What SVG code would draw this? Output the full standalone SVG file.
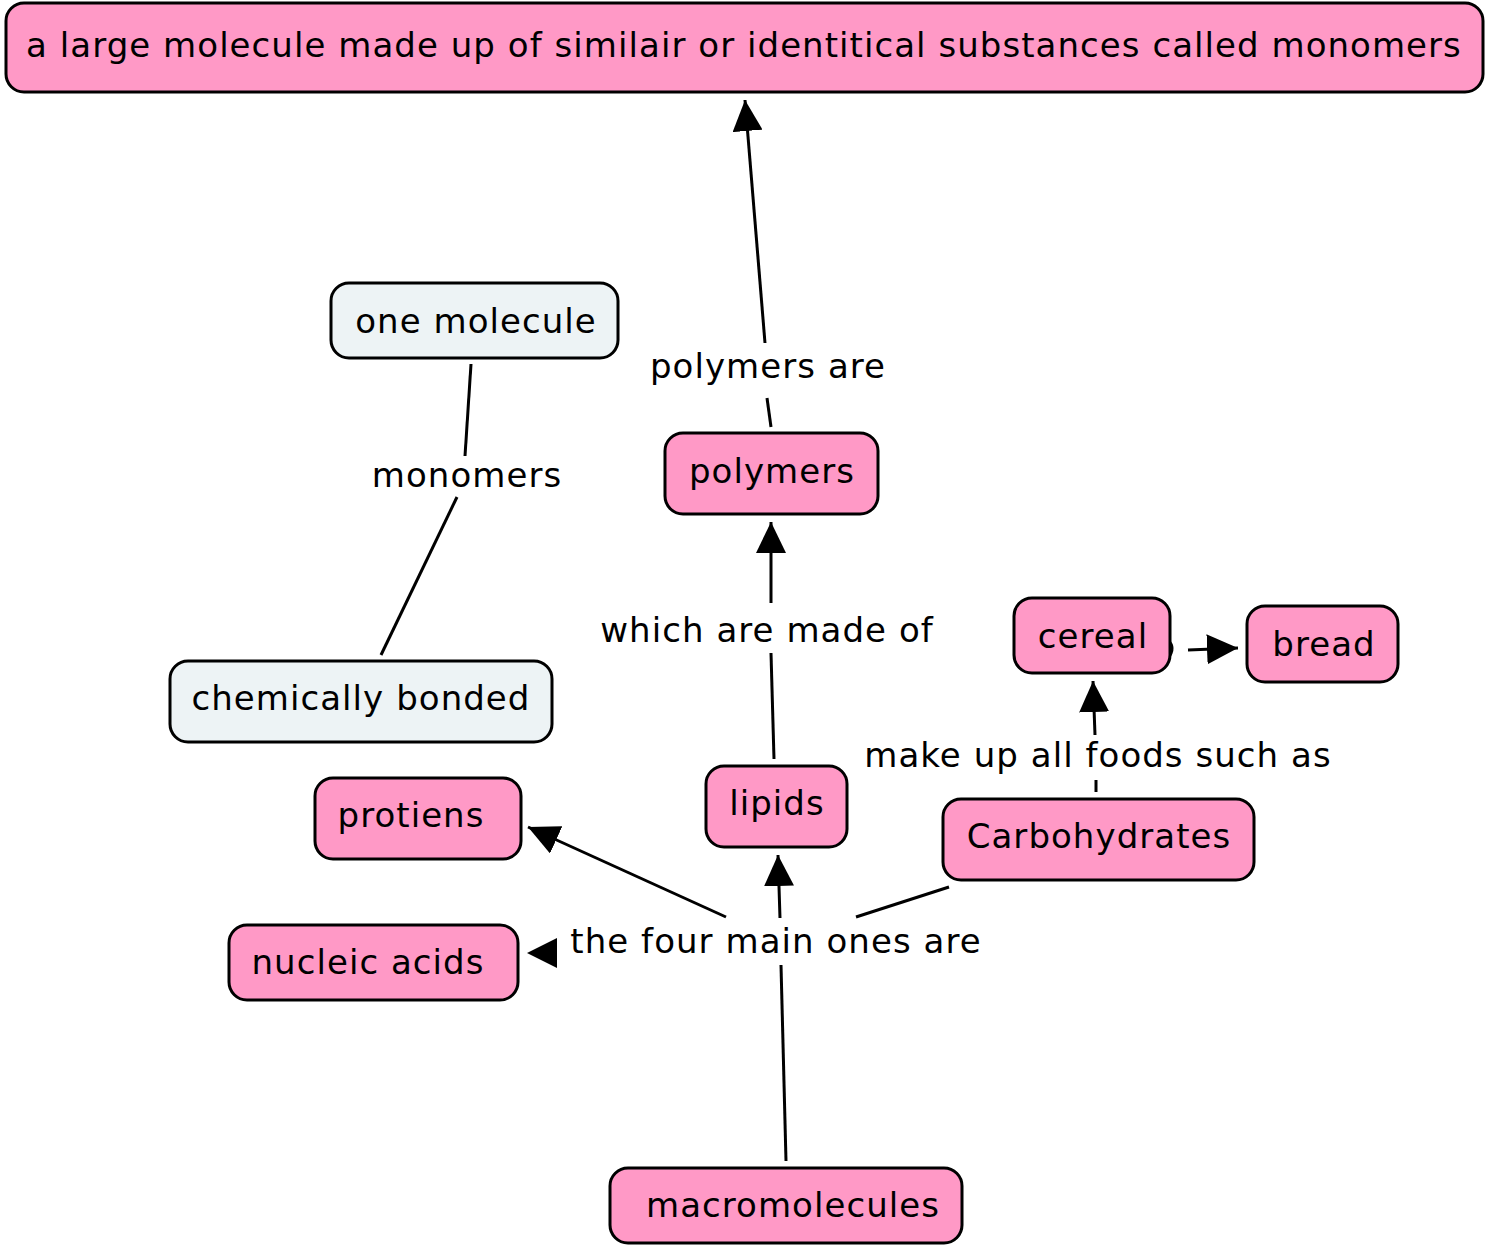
<svg xmlns="http://www.w3.org/2000/svg" width="1489" height="1250" viewBox="0 0 1489 1250">
<style>
.n rect{fill:#FF99C6;stroke:#000;stroke-width:3}
.n.l rect{fill:#EDF3F5}
text{font-family:"DejaVu Sans","Liberation Sans",sans-serif;font-size:34px;letter-spacing:1.05px;fill:#000;text-anchor:middle}
.c line,.c path{stroke:#000;stroke-width:3;fill:none}
.ah{fill:#000;stroke:none}
</style>
<defs>
<marker id="arr" viewBox="0 0 31 30" refX="31" refY="15" markerWidth="31" markerHeight="30" markerUnits="userSpaceOnUse" orient="auto"><path d="M0,0 L31,15 L0,30 z" fill="#000"/></marker>
</defs>
<rect width="1489" height="1250" fill="#fff"/>
<g class="c" id="connectors">
<line x1="771" y1="427" x2="767" y2="398"/>
<line x1="765" y1="343" x2="745" y2="100" marker-end="url(#arr)"/>
<line x1="471" y1="364" x2="465" y2="456"/>
<line x1="457" y1="497" x2="381" y2="655"/>
<line x1="774" y1="759" x2="771" y2="653"/>
<line x1="771" y1="603" x2="771" y2="522" marker-end="url(#arr)"/>
<line x1="1096" y1="792" x2="1096" y2="780"/>
<line x1="1095" y1="735" x2="1093" y2="681" marker-end="url(#arr)"/>
<path d="M1168,640 Q1176,648 1168,658"/>
<line x1="1188" y1="650" x2="1238" y2="648" marker-end="url(#arr)"/>
<line x1="786" y1="1161" x2="781" y2="965"/>
<line x1="726" y1="917" x2="528" y2="827" marker-end="url(#arr)"/>
<line x1="780" y1="918" x2="778" y2="855" marker-end="url(#arr)"/>
<line x1="856" y1="917" x2="949" y2="887"/>
<polygon class="ah" points="527,953 557,938 557,968"/>
</g>
<g id="label-polymers-are"><text x="768" y="378">polymers are</text></g>
<g id="label-monomers"><text x="467" y="487">monomers</text></g>
<g id="label-which"><text x="767" y="642">which are made of</text></g>
<g id="label-makeup"><text x="1098" y="767">make up all foods such as</text></g>
<g id="label-four"><text x="776" y="953">the four main ones are</text></g>
<g id="title" class="n"><rect x="6" y="3" width="1477" height="89" rx="18"/><text x="744" y="57">a large molecule made up of similair or identitical substances called monomers</text></g>
<g id="one-molecule" class="n l"><rect x="331" y="283" width="287" height="75" rx="18"/><text x="476" y="333">one molecule</text></g>
<g id="polymers" class="n"><rect x="665" y="433" width="213" height="81" rx="18"/><text x="772" y="483">polymers</text></g>
<g id="cereal" class="n"><rect x="1014" y="598" width="156" height="75" rx="18"/><text x="1093" y="648">cereal</text></g>
<g id="bread" class="n"><rect x="1247" y="606" width="151" height="76" rx="18"/><text x="1324" y="656">bread</text></g>
<g id="chemically-bonded" class="n l"><rect x="170" y="661" width="382" height="81" rx="18"/><text x="361" y="710">chemically bonded</text></g>
<g id="protiens" class="n"><rect x="315" y="778" width="206" height="81" rx="18"/><text x="411" y="827">protiens</text></g>
<g id="lipids" class="n"><rect x="706" y="766" width="141" height="81" rx="18"/><text x="777" y="815">lipids</text></g>
<g id="carbohydrates" class="n"><rect x="943" y="799" width="311" height="81" rx="18"/><text x="1099" y="848">Carbohydrates</text></g>
<g id="nucleic-acids" class="n"><rect x="229" y="925" width="289" height="75" rx="18"/><text x="368" y="974">nucleic acids</text></g>
<g id="macromolecules" class="n"><rect x="610" y="1168" width="352" height="75" rx="18"/><text x="793" y="1217">macromolecules</text></g>
</svg>
